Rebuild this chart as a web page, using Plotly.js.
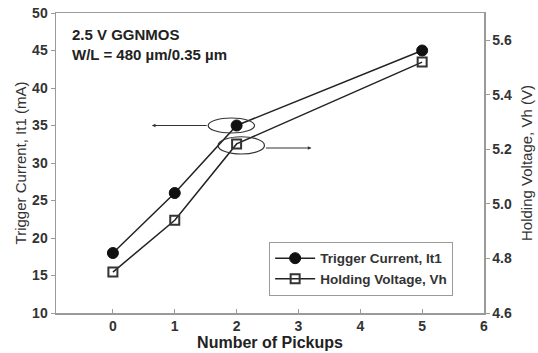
<!DOCTYPE html>
<html>
<head>
<meta charset="utf-8">
<script src="https://cdn.plot.ly/plotly-3.0.1.min.js"></script>
<style>html,body{margin:0;padding:0;background:#fff;}#chart{width:538px;height:353px;}</style>
</head>
<body>
<div id="chart"></div>
<script>
// Data
const pickups = [0, 1, 2, 5];
const triggerCurrent = [18, 26, 35, 45];      // mA, left axis
const holdingVoltage = [4.75, 4.94, 5.22, 5.52]; // V, right axis
const xTicks = [0, 1, 2, 3, 4, 5, 6];
const yLeftTicks = [10, 15, 20, 25, 30, 35, 40, 45, 50];
const yRightTicks = [4.6, 4.8, 5.0, 5.2, 5.4, 5.6];
const seriesNames = ['Trigger Current, It1', 'Holding Voltage, Vh'];
const noteLines = ['2.5 V GGNMOS', 'W/L = 480 µm/0.35 µm'];
// callouts: ellipse bounds [x0, x1, y0, y1] (left-axis units) and arrows [tailX, tipX, y]
const ellipseTrig = [1.54, 2.29, 34.0, 36.0];
const ellipseHold = [1.70, 2.45, 31.2, 33.5];
const arrowTrig = [1.54, 0.63, 35.0];
const arrowHold = [2.45, 3.21, 32.0];

const FONT = 'Liberation Sans, Arial, sans-serif';
const LINE = '#222';
const AX = '#9a9a9a';

const traces = [
  {x: pickups, y: triggerCurrent, name: seriesNames[0], type: 'scatter', mode: 'lines+markers',
   line: {color: LINE, width: 1.5},
   marker: {symbol: 'circle', size: 11, color: '#111', line: {color: '#111', width: 1}}},
  {x: pickups, y: holdingVoltage, name: seriesNames[1], type: 'scatter', mode: 'lines+markers', yaxis: 'y2',
   line: {color: LINE, width: 1.5},
   marker: {symbol: 'square-open', size: 9, color: '#333', line: {color: '#333', width: 2}}}
];

const layout = {
  width: 538, height: 353,
  margin: {l: 56, r: 54, t: 13, b: 40},
  paper_bgcolor: '#fff', plot_bgcolor: '#fff',
  font: {family: FONT, color: '#333'},
  showlegend: true,
  legend: {x: 0.498, y: 0.237, xanchor: 'left', yanchor: 'top', itemwidth: 40,
    bgcolor: '#fff', bordercolor: AX, borderwidth: 1,
    font: {family: FONT, size: 13.5, color: '#333', weight: 'bold'}},
  xaxis: {range: [-0.92, 6], tickvals: xTicks, ticks: 'inside', ticklen: 4, tickcolor: AX,
    showline: true, linecolor: AX, linewidth: 1.5, mirror: true, showgrid: false, zeroline: false,
    tickfont: {family: FONT, size: 14, color: '#333', weight: 'bold'},
    title: {text: 'Number of Pickups', standoff: 0, font: {family: FONT, size: 16, color: '#222', weight: 'bold'}}},
  yaxis: {range: [10, 50], tickvals: yLeftTicks, ticks: 'outside', ticklen: 4, tickcolor: AX,
    showline: true, linecolor: AX, linewidth: 1.5, showgrid: false, zeroline: false,
    tickfont: {family: FONT, size: 14, color: '#333', weight: 'bold'},
    title: {text: 'Trigger Current, It1 (mA)', standoff: 2, font: {family: FONT, size: 15, color: '#333'}}},
  yaxis2: {range: [4.6, 5.7], tickvals: yRightTicks, tickformat: '.1f', overlaying: 'y', side: 'right',
    ticks: 'outside', ticklen: 4, tickcolor: AX,
    showline: true, linecolor: AX, linewidth: 1.5, showgrid: false, zeroline: false,
    tickfont: {family: FONT, size: 14, color: '#333', weight: 'bold'},
    title: {text: 'Holding Voltage, Vh (V)', standoff: 10, font: {family: FONT, size: 15, color: '#333'}}},
  shapes: [
    {type: 'circle', xref: 'x', yref: 'y', x0: ellipseTrig[0], x1: ellipseTrig[1], y0: ellipseTrig[2], y1: ellipseTrig[3],
     line: {color: '#333', width: 1.2}},
    {type: 'circle', xref: 'x', yref: 'y', x0: ellipseHold[0], x1: ellipseHold[1], y0: ellipseHold[2], y1: ellipseHold[3],
     line: {color: '#333', width: 1.2}}
  ],
  annotations: [
    {x: arrowTrig[1], y: arrowTrig[2], ax: arrowTrig[0], ay: arrowTrig[2], xref: 'x', yref: 'y', axref: 'x', ayref: 'y',
     text: '', showarrow: true, arrowhead: 2, arrowsize: 0.6, arrowwidth: 1.2, arrowcolor: '#333'},
    {x: arrowHold[1], y: arrowHold[2], ax: arrowHold[0], ay: arrowHold[2], xref: 'x', yref: 'y', axref: 'x', ayref: 'y',
     text: '', showarrow: true, arrowhead: 2, arrowsize: 0.6, arrowwidth: 1.2, arrowcolor: '#333'},
    {xref: 'paper', yref: 'paper', x: 0.033, y: 0.965, xanchor: 'left', yanchor: 'top', align: 'left', showarrow: false,
     text: noteLines.join('<br>'), font: {family: FONT, size: 15, color: '#222', weight: 'bold'}}
  ]
};

Plotly.newPlot('chart', traces, layout, {displayModeBar: false, staticPlot: true});
</script>
</body>
</html>
